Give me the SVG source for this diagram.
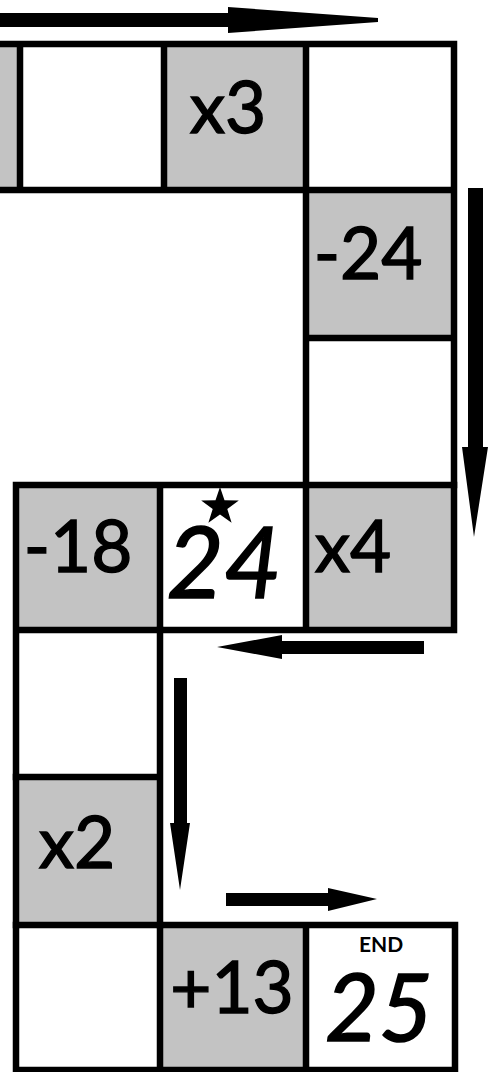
<svg xmlns="http://www.w3.org/2000/svg" width="488" height="1072" viewBox="0 0 488 1072">
<style>
.g{fill:#c3c3c3}
.w{fill:#ffffff}
.ln{stroke:#000;stroke-width:6.5;stroke-linecap:square;fill:none}
.t{font-family:Lato,"Open Sans","Liberation Sans",sans-serif;font-size:71px;fill:#000;stroke:#000;stroke-width:1.4;text-anchor:middle}
.big{font-family:Lato,"Open Sans","Liberation Sans",sans-serif;font-style:italic;fill:#000;stroke:#000;stroke-width:1.6;text-anchor:middle}
.end{font-family:Lato,"Open Sans","Liberation Sans",sans-serif;font-weight:bold;font-size:21px;fill:#000;text-anchor:middle}
.ar{fill:#000}
</style>
<rect x="0" y="0" width="488" height="1072" fill="#fff"/>

<g id="cell-top-partial"><rect class="g" x="0" y="44" width="20" height="146"/></g>
<g id="cell-top-blank1"><rect class="w" x="20" y="44" width="144" height="146"/></g>
<g id="cell-x3"><rect class="g" x="164" y="44" width="142" height="146"/><text class="t" x="228" y="133">x3</text></g>
<g id="cell-top-blank2"><rect class="w" x="306" y="44" width="148" height="146"/></g>
<g id="cell-m24"><rect class="g" x="306" y="190" width="148" height="148"/><text class="t" x="368" y="279">-24</text></g>
<g id="cell-right-blank"><rect class="w" x="306" y="338" width="148" height="147"/></g>
<g id="cell-m18"><rect class="g" x="16" y="485" width="144" height="145"/><text class="t" x="78" y="572">-18</text></g>
<g id="cell-24"><rect class="w" x="160" y="485" width="146" height="145"/>
<polygon fill="#000" points="220,487 224.5,500.3 238.8,500.6 227.3,509.1 231.6,522.8 220,514.6 208.4,522.8 212.7,509.1 201.2,500.6 215.5,500.3"/>
<text class="big" x="224" y="598" font-size="99">24</text></g>
<g id="cell-x4"><rect class="g" x="306" y="485" width="148" height="145"/><text class="t" x="353" y="572">x4</text></g>
<g id="cell-left-blank"><rect class="w" x="16" y="630" width="144" height="147"/></g>
<g id="cell-x2"><rect class="g" x="16" y="777" width="144" height="148"/><text class="t" x="77" y="868">x2</text></g>
<g id="cell-bottom-blank"><rect class="w" x="16" y="925" width="144" height="145"/></g>
<g id="cell-p13"><rect class="g" x="160" y="925" width="146" height="145"/><text class="t" x="232" y="1013">+13</text></g>
<g id="cell-end"><rect class="w" x="306" y="925" width="149" height="145"/><text class="end" x="381" y="952">END</text><text class="big" x="379" y="1041" font-size="93">25</text></g>

<g id="grid">
<path class="ln" d="M0 44H454M0 190H454M20 44V190M164 44V190M306 44V485M454 44V485M306 338H454"/>
<path class="ln" d="M16 485H454M16 630H454M16 485V925M160 485V630M306 485V630M454 485V630"/>
<path class="ln" d="M160 630V925M16 777H160"/>
<path class="ln" d="M16 925H455M16 1070H455M16 925V1070M160 925V1070M306 925V1070M455 925V1070"/>
</g>

<g id="connectors">
<polygon class="ar" points="0,13 228,13 228,7 378,18 378,22 228,33 228,27 0,27"/>
<polygon class="ar" points="468,188 483,188 483,447 488,447 474,537 462,447 468,447"/>
<polygon class="ar" points="424,641 282,641 282,635 217,647 282,659 282,654 424,654"/>
<polygon class="ar" points="174,678 187,678 187,823 190,823 180,890 170,823 174,823"/>
<polygon class="ar" points="226,893 328,893 328,888 377,899 328,911 328,906 226,906"/>
</g>
</svg>
